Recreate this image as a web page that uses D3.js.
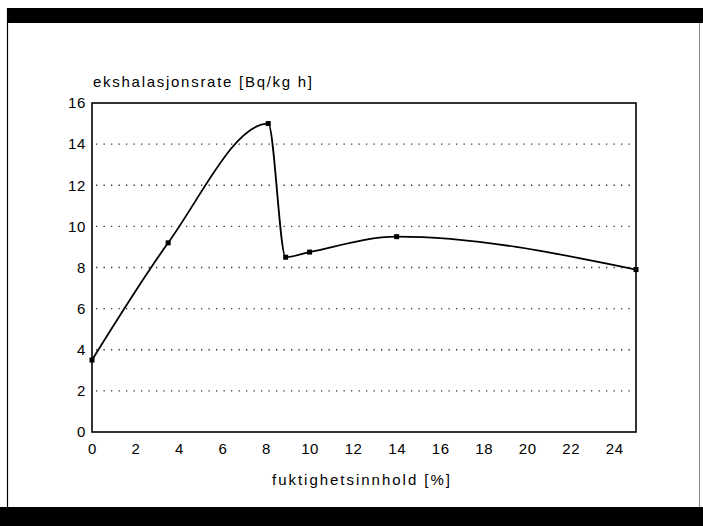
<!DOCTYPE html>
<html>
<head>
<meta charset="utf-8">
<script src="https://cdn.jsdelivr.net/npm/d3@7"></script>
<style>
  html, body { margin: 0; padding: 0; background: #fff; }
  svg { display: block; }
  text { font-family: "Liberation Sans", Arial, Helvetica, sans-serif; fill: #000; }
</style>
</head>
<body>
<svg id="chart" width="703" height="526"></svg>
<script>
// Moisture content [%] and exhalation rate [Bq/kg h]
const moisture = [0, 3.5, 8.1, 8.9, 10.0, 14.0, 25];
const exhalation = [3.5, 9.2, 15.0, 8.5, 8.75, 9.5, 7.9];

const xTickValues = [0, 2, 4, 6, 8, 10, 12, 14, 16, 18, 20, 22, 24];
const yTickValues = [0, 2, 4, 6, 8, 10, 12, 14, 16];
const gridValues = [2, 4, 6, 8, 10, 12, 14];

const yTitle = "ekshalasjonsrate [Bq/kg h]";
const xTitle = "fuktighetsinnhold [%]";

const svg = d3.select("#chart");

// page framing: black bands and thin side rules
svg.append("rect").attr("x", 7).attr("y", 8).attr("width", 696).attr("height", 15).attr("fill", "#000");
svg.append("rect").attr("x", 0).attr("y", 507).attr("width", 703).attr("height", 19).attr("fill", "#000");
svg.append("line").attr("x1", 7.5).attr("x2", 7.5).attr("y1", 8).attr("y2", 507)
  .attr("stroke", "#000").attr("stroke-width", 1.2);
svg.append("line").attr("x1", 699.5).attr("x2", 699.5).attr("y1", 23).attr("y2", 507)
  .attr("stroke", "#888").attr("stroke-width", 1);

const x = d3.scaleLinear().domain([0, 25]).range([92, 636]);
const y = d3.scaleLinear().domain([0, 16]).range([432, 103]);

// dotted horizontal grid
svg.append("g").selectAll("line").data(gridValues).join("line")
  .attr("x1", x(0) + 4).attr("x2", x(25) - 2)
  .attr("y1", d => y(d)).attr("y2", d => y(d))
  .attr("stroke", "#333").attr("stroke-width", 1.3)
  .attr("stroke-dasharray", "1.3 6.2");

// y axis labels (no tick marks)
const yAxis = d3.axisLeft(y).tickValues(yTickValues).tickSize(0).tickPadding(6).tickFormat(d3.format("d"));
const gy = svg.append("g").attr("transform", `translate(${x(0)},0)`).call(yAxis);
gy.select(".domain").remove();
gy.selectAll("text").attr("font-size", 15).attr("letter-spacing", 0.6)
  .style("font-family", "'Liberation Sans', Arial, sans-serif").attr("fill", "#000");

// x axis labels
const xAxis = d3.axisBottom(x).tickValues(xTickValues).tickSize(0).tickPadding(11).tickFormat(d3.format("d"));
const gx = svg.append("g").attr("transform", `translate(0,${y(0)})`).call(xAxis);
gx.select(".domain").remove();
gx.selectAll("text").attr("font-size", 15).attr("letter-spacing", 0.6)
  .style("font-family", "'Liberation Sans', Arial, sans-serif").attr("fill", "#000");

// plot frame
svg.append("rect")
  .attr("x", x(0)).attr("y", y(16))
  .attr("width", x(25) - x(0)).attr("height", y(0) - y(16))
  .attr("fill", "none").attr("stroke", "#000").attr("stroke-width", 1.6);

// data curve
const pts = moisture.map((m, i) => [m, exhalation[i]]);
const line = d3.line().x(d => x(d[0])).y(d => y(d[1])).curve(d3.curveMonotoneX);
svg.append("path").datum(pts).attr("d", line)
  .attr("fill", "none").attr("stroke", "#000").attr("stroke-width", 1.8);

svg.append("g").selectAll("rect").data(pts).join("rect")
  .attr("x", d => x(d[0]) - 2.5).attr("y", d => y(d[1]) - 2.5)
  .attr("width", 5).attr("height", 5).attr("fill", "#000");

// titles
svg.append("text").attr("x", 93).attr("y", 87).attr("font-size", 15)
  .attr("textLength", 219).attr("lengthAdjust", "spacing").text(yTitle);
svg.append("text").attr("x", 272).attr("y", 485).attr("font-size", 15)
  .attr("textLength", 178).attr("lengthAdjust", "spacing").text(xTitle);
</script>
</body>
</html>
